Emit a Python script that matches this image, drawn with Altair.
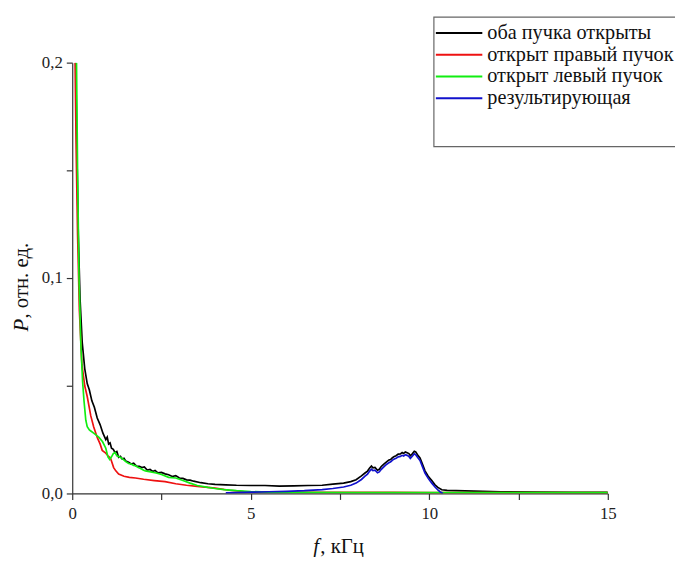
import altair as alt
import pandas as pd

# ---- data ----
black_f = [0.1, 0.13, 0.17, 0.22, 0.28, 0.35, 0.42, 0.48, 0.55, 0.62, 0.7, 0.78, 0.86, 0.94, 0.98,
           1.02, 1.06, 1.1, 1.15, 1.2, 1.25, 1.3, 1.35, 1.4, 1.45, 1.5, 1.58, 1.65, 1.72, 1.8, 1.88,
           1.95, 2.02, 2.1, 2.18, 2.25, 2.32, 2.4, 2.5, 2.6, 2.7, 2.8, 2.9, 3.0, 3.1, 3.2, 3.3, 3.4,
           3.6, 3.8, 4.0, 4.3, 4.6, 5.0, 5.4, 5.8, 6.2, 6.6, 7.0, 7.3, 7.6, 7.8, 7.95, 8.1, 8.2,
           8.27, 8.33, 8.38, 8.42, 8.48, 8.55, 8.6, 8.65, 8.72, 8.77, 8.82, 8.87, 8.92, 8.97, 9.02,
           9.07, 9.13, 9.19, 9.24, 9.28, 9.33, 9.38, 9.43, 9.47, 9.53, 9.58, 9.62, 9.67, 9.74, 9.8,
           9.88, 9.97, 10.07, 10.16, 10.24, 10.35, 10.5, 11.0, 11.5, 12.0, 13.0, 14.0, 15.0]
black_p = [0.2, 0.16, 0.12, 0.09, 0.07, 0.058, 0.051, 0.048, 0.043, 0.04, 0.035, 0.032, 0.028, 0.025,
           0.0262, 0.023, 0.0235, 0.021, 0.0205, 0.019, 0.0195, 0.0168, 0.0172, 0.016, 0.0163, 0.015,
           0.0145, 0.0137, 0.0141, 0.0127, 0.0126, 0.012, 0.0123, 0.0109, 0.0112, 0.0102, 0.0107,
           0.0096, 0.0098, 0.0091, 0.0087, 0.0079, 0.0083, 0.0072, 0.007, 0.0063, 0.0062, 0.0057,
           0.005, 0.0045, 0.0042, 0.004, 0.0038, 0.0037, 0.0037, 0.0034, 0.0035, 0.0037, 0.0038,
           0.0043, 0.0048, 0.0055, 0.0064, 0.0082, 0.0095, 0.0104, 0.0118, 0.0127, 0.0119, 0.0121,
           0.0108, 0.0112, 0.0124, 0.0135, 0.0142, 0.0149, 0.0155, 0.0158, 0.0166, 0.0172, 0.0175,
           0.0183, 0.0184, 0.019, 0.0186, 0.0193, 0.0189, 0.0185, 0.0175, 0.0185, 0.0196, 0.0193,
           0.018, 0.0165, 0.014, 0.0105, 0.008, 0.006, 0.004, 0.0028, 0.0017, 0.0014, 0.0012, 0.001,
           0.0008, 0.0006, 0.0005, 0.0005]

red_f = [0.08, 0.11, 0.15, 0.2, 0.27, 0.35, 0.42, 0.52, 0.6, 0.7, 0.78, 0.84, 0.92, 1.0, 1.07, 1.12,
         1.16, 1.22, 1.3, 1.45, 1.6, 1.77, 2.0, 2.3, 2.6, 2.9, 3.2, 3.5, 3.8, 4.0, 4.4, 4.8, 5.5,
         7.0, 9.0, 10.0, 12.0, 15.0]
red_p = [0.2, 0.16, 0.12, 0.085, 0.06, 0.05, 0.045, 0.036, 0.031, 0.026, 0.023, 0.02, 0.019, 0.0175,
         0.0165, 0.014, 0.012, 0.0105, 0.009, 0.008, 0.0075, 0.0072, 0.0066, 0.006, 0.0055, 0.0045,
         0.0038, 0.0033, 0.0028, 0.0025, 0.0015, 0.0009, 0.0006, 0.0005, 0.0005, 0.0004, 0.0004, 0.0004]

green_f = [0.12, 0.15, 0.19, 0.24, 0.29, 0.33, 0.38, 0.42, 0.48, 0.52, 0.6, 0.68, 0.75, 0.85, 0.94,
           1.0, 1.05, 1.1, 1.15, 1.2, 1.25, 1.3, 1.38, 1.5, 1.58, 1.65, 1.72, 1.77, 1.85, 1.9, 2.0,
           2.05, 2.2, 2.35, 2.5, 2.7, 2.9, 3.1, 3.3, 3.5, 3.8, 4.0, 4.25, 4.6, 5.0, 5.5, 6.0, 8.0,
           10.0, 12.0, 15.0]
green_p = [0.2, 0.15, 0.1, 0.07, 0.052, 0.043, 0.034, 0.031, 0.0295, 0.029, 0.028, 0.027, 0.026,
           0.024, 0.021, 0.017, 0.0158, 0.017, 0.0185, 0.019, 0.0175, 0.0172, 0.0165, 0.0148, 0.0139,
           0.0137, 0.013, 0.0129, 0.012, 0.0117, 0.0108, 0.0105, 0.01, 0.0095, 0.0088, 0.0075, 0.0072,
           0.006, 0.0048, 0.0037, 0.0028, 0.0023, 0.0018, 0.0013, 0.0009, 0.0006, 0.0005, 0.0004,
           0.0004, 0.0004, 0.0004]

blue_f = [4.3, 4.6, 5.0, 5.5, 6.0, 6.5, 7.0, 7.3, 7.6, 7.8, 7.95, 8.1, 8.2, 8.27, 8.33, 8.38, 8.42,
          8.48, 8.55, 8.6, 8.65, 8.72, 8.77, 8.82, 8.87, 8.92, 8.97, 9.02, 9.07, 9.13, 9.19, 9.24,
          9.28, 9.33, 9.38, 9.43, 9.47, 9.53, 9.58, 9.62, 9.67, 9.74, 9.8, 9.88, 9.97, 10.07, 10.16,
          10.24, 10.3, 10.38]
blue_p = [0.0003, 0.0004, 0.0006, 0.0008, 0.001, 0.0013, 0.0018, 0.0023, 0.003, 0.0038, 0.0048,
          0.0065, 0.008, 0.009, 0.0104, 0.0113, 0.0106, 0.0108, 0.0096, 0.01, 0.0111, 0.0122, 0.013,
          0.0137, 0.0143, 0.0147, 0.0155, 0.016, 0.0163, 0.017, 0.0172, 0.0177, 0.0174, 0.018,
          0.0177, 0.0172, 0.0163, 0.0174, 0.0184, 0.018, 0.0168, 0.0153, 0.0128, 0.0095, 0.007,
          0.0048, 0.003, 0.0017, 0.0008, 0.0]

series_names = ["оба пучка открыты", "открыт правый пучок", "открыт левый пучок", "результирующая"]
series_colors = ["#000000", "#ee1111", "#11ee11", "#1111cc"]
series_data = [(black_f, black_p), (red_f, red_p), (green_f, green_p), (blue_f, blue_p)]

x_ticks = [0, 2.5, 5, 7.5, 10, 12.5, 15]
y_ticks = [0, 0.05, 0.1, 0.15, 0.2]

FONT = "Liberation Serif"
W, H = 542, 436

xs = alt.Scale(domain=[0, 15], nice=False, zero=False)
ys = alt.Scale(domain=[0, 0.2], nice=False)

x_axis = alt.Axis(values=x_ticks, labelExpr="datum.value % 5 == 0 ? format(datum.value, 'd') : ''",
                  title=None, grid=False, tickSize=6, labelPadding=6, labelFontSize=17,
                  labelFont=FONT, labelColor="#222", domainColor="#333", tickColor="#333",
                  labelFlush=False, domainWidth=1.2, tickWidth=1.2)
y_axis = alt.Axis(values=y_ticks,
                  labelExpr="(round(datum.value*100) % 10 == 0) ? replace(format(datum.value, '.1f'), '.', ',') : ''",
                  title=None, grid=False, tickSize=6, labelPadding=4, labelFontSize=17,
                  labelFont=FONT, labelColor="#222", domainColor="#333", tickColor="#333",
                  labelFlush=False, domainWidth=1.2, tickWidth=1.2)

layers = []
for (fv, pv), name, col in zip(series_data, series_names, series_colors):
    df = pd.DataFrame({"f": fv, "P": pv, "series": name})
    layers.append(alt.Chart(df).mark_line(color=col, strokeWidth=1.7, clip=True).encode(
        x=alt.X("f:Q", scale=xs, axis=x_axis),
        y=alt.Y("P:Q", scale=ys, axis=y_axis)))

one = pd.DataFrame({"k": [0]})

# legend box
box = alt.Chart(one).mark_rect(fill="white", stroke="#666", strokeWidth=1.2).encode(
    x=alt.value(366), x2=alt.value(625), y=alt.value(-46), y2=alt.value(85))
layers.append(box)
row_y = [-30, -8, 14, 36]
for name, col, ry in zip(series_names, series_colors, row_y):
    layers.append(alt.Chart(one).mark_rule(color=col, strokeWidth=2).encode(
        x=alt.value(368), x2=alt.value(415), y=alt.value(ry)))
    layers.append(alt.Chart(one).mark_text(text=name, font=FONT, fontSize=20.5, align="left",
                                           baseline="middle", color="#111").encode(
        x=alt.value(420), y=alt.value(ry)))

# axis titles (italic symbol + upright unit)
layers.append(alt.Chart(one).mark_text(text="f", font=FONT, fontSize=21, fontStyle="italic",
                                       align="left", baseline="middle", color="#111").encode(
    x=alt.value(244), y=alt.value(490)))
layers.append(alt.Chart(one).mark_text(text=", кГц", font=FONT, fontSize=21, align="left",
                                       baseline="middle", color="#111").encode(
    x=alt.value(251), y=alt.value(490)))
layers.append(alt.Chart(one).mark_text(text="P", font=FONT, fontSize=21, fontStyle="italic",
                                       align="left", baseline="middle", angle=270, color="#111").encode(
    x=alt.value(-51), y=alt.value(272)))
layers.append(alt.Chart(one).mark_text(text=", отн. ед.", font=FONT, fontSize=21, align="left",
                                       baseline="middle", angle=270, color="#111").encode(
    x=alt.value(-51), y=alt.value(259)))

chart = alt.layer(*layers).properties(
    width=W, height=H,
    autosize=alt.AutoSizeParams(type="none"),
    padding={"left": 65, "top": 52, "right": 68, "bottom": 61},
).configure(background="white").configure_view(stroke=None)

chart.save("out.html", embed_options={"renderer": "svg", "actions": False})
